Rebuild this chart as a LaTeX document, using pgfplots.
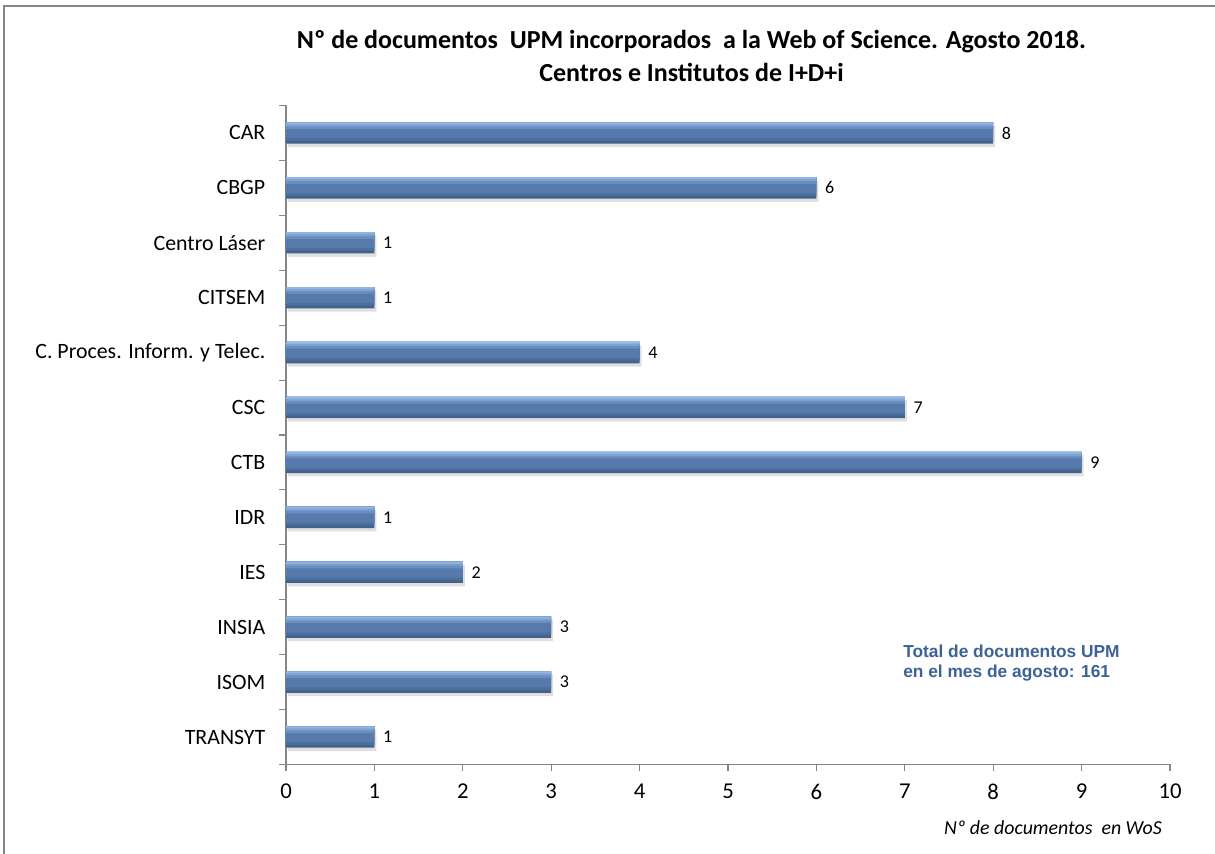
\documentclass[border=0pt]{standalone}
\usepackage{fontspec}
\setmainfont{Carlito}
\newfontfamily\arialfont{Liberation Sans}
\usepackage{pgfplots}
\usepackage{pgfplotstable}
\pgfplotsset{compat=1.18}
\usetikzlibrary{shadows}
\definecolor{axisgray}{RGB}{134,134,134}
\definecolor{barlight}{RGB}{146,182,228}
\definecolor{barmid}{RGB}{86,122,172}
\definecolor{bardark}{RGB}{66,98,140}
\definecolor{annot}{RGB}{60,98,150}
% y position: 11 = CAR (top) ... 0 = TRANSYT (bottom)
\pgfplotstableread{
val pos
8 11
6 10
1 9
1 8
4 7
7 6
9 5
1 4
2 3
3 2
3 1
1 0
}\datatable
\begin{document}
\begin{tikzpicture}
\path[use as bounding box] (0,0) rectangle (911.25pt,640.5pt);
\draw[axisgray, line width=0.8pt] (3pt,0) -- (3pt,636pt) -- (911.25pt,636pt);
\node[font=\fontsize{19.5}{22}\selectfont\bfseries] at (518.6pt,609pt) {Nº de documentos\ \ UPM incorporados\ \ a la Web of Science. Agosto 2018.};
\node[font=\fontsize{19.5}{22}\selectfont\bfseries] at (518.6pt,586.5pt) {Centros e Institutos de I+D+i};
\begin{axis}[
  at={(214.5pt,67.125pt)}, anchor=south west,
  scale only axis, width=663pt, height=494.25pt,
  xmin=0, xmax=10, ymin=-0.5, ymax=11.5,
  axis x line*=bottom, axis y line*=left,
  axis line style={draw=axisgray, line width=0.8pt},
  xtick={0,...,10},
  ytick={0,...,11},
  yticklabels={TRANSYT,ISOM,INSIA,IES,IDR,CTB,CSC,C. Proces. Inform. y Telec.,CITSEM,Centro Láser,CBGP,CAR},
  minor ytick={-0.5,0.5,...,11.5},
  major y tick style={draw=none},
  minor y tick style={draw=axisgray, line width=0.8pt},
  major x tick style={draw=axisgray, line width=0.8pt},
  tick align=outside,
  major tick length=5pt, minor tick length=5pt,
  /pgf/number format/assume math mode=true,
  xticklabel style={font=\fontsize{17}{20}\selectfont, yshift=-6pt},
  yticklabel style={font=\fontsize{16.4}{19}\selectfont, xshift=-7pt},
  clip=false,
  xbar, bar width=16pt,
]
% base (bottom dark) with shadow
\addplot[draw=none, fill=bardark, bar shift=0pt,
  drop shadow={shadow xshift=1.5pt, shadow yshift=-2.5pt, opacity=0.25}]
  table[x=val, y=pos] {\datatable};
\addplot[draw=none, fill=bardark!50!barmid, bar width=14pt, bar shift=1pt]
  table[x=val, y=pos] {\datatable};
\addplot[draw=none, fill=barmid, bar width=12pt, bar shift=2pt]
  table[x=val, y=pos] {\datatable};
\addplot[draw=none, fill=barmid!67!barlight, bar width=5pt, bar shift=5.5pt]
  table[x=val, y=pos] {\datatable};
\addplot[draw=none, fill=barmid!33!barlight, bar width=3pt, bar shift=6.5pt]
  table[x=val, y=pos] {\datatable};
\addplot[draw=none, fill=barlight, bar width=1.5pt, bar shift=7.25pt,
  nodes near coords, point meta=x,
  every node near coord/.append style={font=\fontsize{13.5}{16}\selectfont, text=black, anchor=west, xshift=3pt, yshift=-7.25pt}]
  table[x=val, y=pos] {\datatable};
\end{axis}
\node[anchor=north west, align=left, font=\arialfont\fontsize{13}{15}\selectfont\bfseries, text=annot, inner sep=0pt] at (677.25pt,157pt) {Total de documentos UPM\\en el mes de agosto: 161};
\node[font=\fontsize{14.9}{17}\selectfont\itshape] at (789.75pt,19.5pt) {Nº de documentos\ \ en WoS};
\end{tikzpicture}
\end{document}
